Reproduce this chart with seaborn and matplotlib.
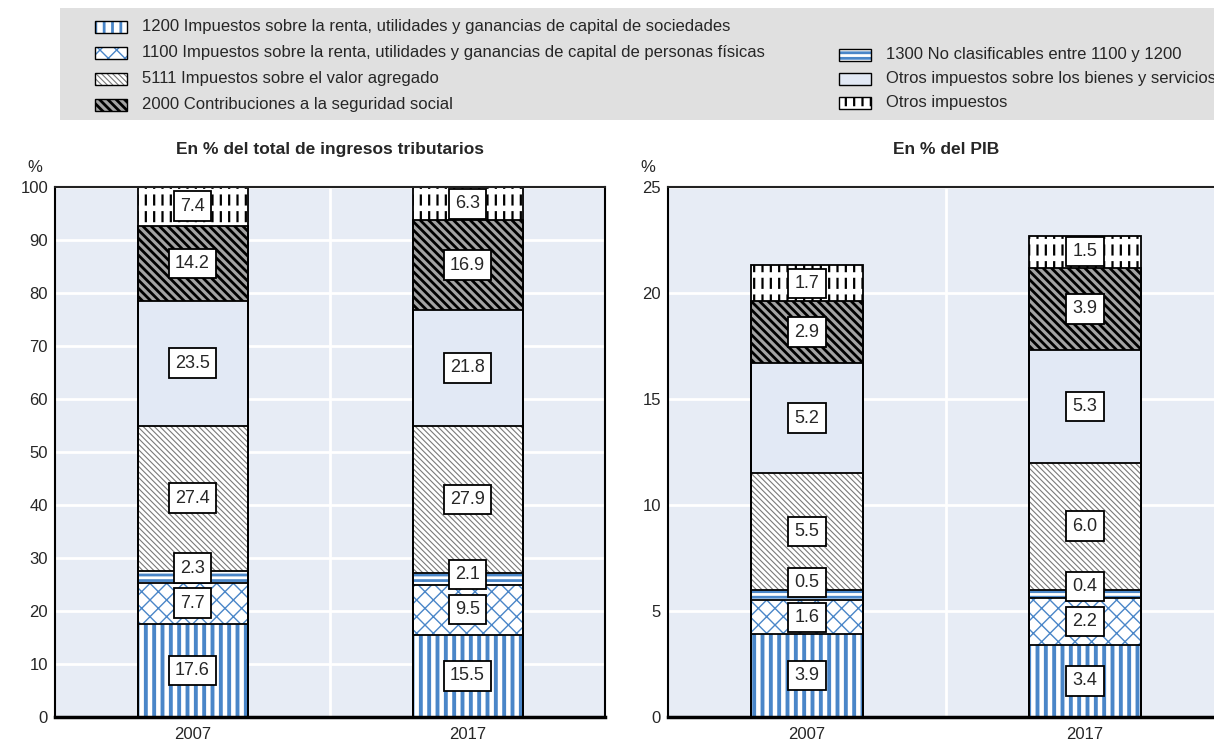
import numpy as np
import matplotlib.pyplot as plt
from matplotlib.patches import Rectangle
import seaborn as sns

# Data (stack order, bottom -> top)
years = ['2007', '2017']
labels = ['1200 Impuestos sobre la renta, utilidades y ganancias de capital de sociedades',
          '1100 Impuestos sobre la renta, utilidades y ganancias de capital de personas físicas',
          '1300 No clasificables entre 1100 y 1200',
          '5111 Impuestos sobre el valor agregado',
          'Otros impuestos sobre los bienes y servicios',
          '2000 Contribuciones a la seguridad social',
          'Otros impuestos']
pct_tax_2007 = [17.6, 7.7, 2.3, 27.4, 23.5, 14.2, 7.4]
pct_tax_2017 = [15.5, 9.5, 2.1, 27.9, 21.8, 16.9, 6.3]
pct_gdp_2007 = [3.9, 1.6, 0.5, 5.5, 5.2, 2.9, 1.7]
pct_gdp_2017 = [3.4, 2.2, 0.4, 6.0, 5.3, 3.9, 1.5]

BLUE = '#4a86c8'
PANEL = '#e7ecf5'
BS = '\\'
# fill, hatch colour, hatch, hatch width, optional white overlay hatch
styles = [
    dict(fc='white', hc=BLUE, hatch='||', hlw=2.8),
    dict(fc='white', hc=BLUE, hatch='xx', hlw=1.0),
    dict(fc='white', hc=BLUE, hatch='---', hlw=2.0),
    dict(fc='white', hc='#7a7a7a', hatch=BS * 6, hlw=0.8),
    dict(fc='#e2e9f5', hc=None, hatch=None, hlw=1.0),
    dict(fc='#a3a3a3', hc='black', hatch=BS * 4, hlw=2.0),
    dict(fc='white', hc='black', hatch='||', hlw=1.6, over=('-', 'white', 4.0)),
]

sns.set_style('white')
plt.rcParams['font.family'] = ['Liberation Sans Narrow', 'Liberation Sans', 'DejaVu Sans']
plt.rcParams['font.size'] = 12

W, H = 1214, 740
fig = plt.figure(figsize=(W / 100, H / 100), dpi=100)


def px_axes(l, t, r, b):
    return fig.add_axes([l / W, 1 - b / H, (r - l) / W, (b - t) / H])


def set_hlw(patches, lw):
    for p in patches:
        if hasattr(p, 'set_hatch_linewidth'):
            p.set_hatch_linewidth(lw)


def hatch_bar(ax, heights, fc, hc, hatch, hlw):
    n0 = len(ax.patches)
    with plt.rc_context({'hatch.linewidth': hlw}):
        sns.barplot(x=years, y=heights, ax=ax, width=0.4, errorbar=None,
                    facecolor=fc, edgecolor=hc or fc, linewidth=0, hatch=hatch)
    set_hlw(ax.patches[n0:], hlw)


def draw_panel(ax, v07, v17, ymax, step, title):
    ax.set_facecolor(PANEL)
    data = np.array([v07, v17])
    cum = data.cumsum(axis=1)
    # cumulative bars from the top segment down
    for i in range(len(labels) - 1, -1, -1):
        st = styles[i]
        hatch_bar(ax, cum[:, i], st['fc'], st['hc'], st['hatch'], st['hlw'])
        if 'over' in st:
            h, c, lw = st['over']
            n0 = len(ax.patches)
            with plt.rc_context({'hatch.linewidth': lw}):
                sns.barplot(x=years, y=cum[:, i], ax=ax, width=0.4, errorbar=None,
                            facecolor='none', edgecolor=c, linewidth=0, hatch=h)
            set_hlw(ax.patches[n0:], lw)
    for i in range(len(labels)):
        sns.barplot(x=years, y=cum[:, i], ax=ax, width=0.4, errorbar=None,
                    facecolor='none', edgecolor='black', linewidth=1.3)

    # value boxes, pushed up when they would overlap
    ppu = 530 / ymax
    min_sep = 35 / ppu
    for j in range(len(years)):
        pos = cum[j] - data[j] / 2
        for i in range(1, len(pos)):
            if pos[i] - pos[i - 1] < min_sep:
                pos[i] = pos[i - 1] + min_sep
        for i, v in enumerate(data[j]):
            ax.text(j, pos[i], f'{v:.1f}', ha='center', va='center', fontsize=13,
                    zorder=6, bbox=dict(boxstyle='square,pad=0.35', fc='white',
                                        ec='black', lw=1.3))

    ax.set_xlim(-0.5, 1.5)
    ax.set_ylim(0, ymax)
    ax.set_yticks(np.arange(0, ymax + 0.1, step))
    ax.set_axisbelow(True)
    ax.yaxis.grid(True, color='white', lw=2)
    ax.axvline(0.5, color='white', lw=2, zorder=0.5)
    ax.tick_params(length=0, labelsize=12)
    ax.tick_params(axis='y', pad=5)
    ax.tick_params(axis='x', pad=7)
    ax.set_xlabel('')
    ax.set_ylabel('')
    for s in ax.spines.values():
        s.set_visible(True)
        s.set_color('black')
        s.set_linewidth(1.5)
    ax.spines['bottom'].set_linewidth(2.5)
    ax.spines['top'].set_color('#222222')
    ax.set_title(title, fontsize=12.5, fontweight='bold', pad=24)
    ax.annotate('%', xy=(0, 1), xycoords='axes fraction', xytext=(-20, 19),
                textcoords='offset pixels', ha='center', va='center', fontsize=12)


ax1 = px_axes(55, 187, 605, 717)
ax2 = px_axes(668, 187, 1224, 717)
draw_panel(ax1, pct_tax_2007, pct_tax_2017, 100, 10, 'En % del total de ingresos tributarios')
draw_panel(ax2, pct_gdp_2007, pct_gdp_2017, 25, 5, 'En % del PIB')

# legend band
lg = fig.add_axes([0, 1 - 125 / H, 1, 125 / H])
lg.set_xlim(0, W)
lg.set_ylim(125, 0)
lg.axis('off')
lg.add_patch(Rectangle((60, 8), W - 60, 112, fc='#e0e0e0', ec='none'))
slots = [(95, 27), (95, 53), (839, 55), (95, 79), (839, 79), (95, 105), (839, 103)]
for st, lab, (x, y) in zip(styles, labels, slots):
    p = Rectangle((x, y - 6), 32, 12, fc=st['fc'], ec=st['hc'] or st['fc'], lw=0,
                  hatch=st['hatch'])
    lg.add_patch(p)
    set_hlw([p], min(st['hlw'], 2.0))
    if 'over' in st:
        h, c, lw = st['over']
        q = Rectangle((x, y - 6), 32, 12, fc='none', ec=c, lw=0, hatch=h)
        lg.add_patch(q)
        set_hlw([q], 3.0)
    lg.add_patch(Rectangle((x, y - 6), 32, 12, fc='none', ec='black', lw=1.0))
    lg.text(x + 47, y, lab, ha='left', va='center', fontsize=12)

fig.savefig('out.png', dpi=100)
